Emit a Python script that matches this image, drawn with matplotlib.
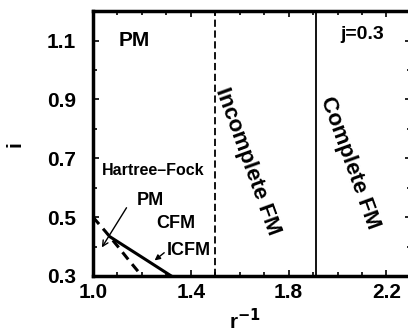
import matplotlib.pyplot as plt
from matplotlib.ticker import MultipleLocator

plt.rcParams['font.family'] = ['Liberation Sans', 'DejaVu Sans']
plt.rcParams['font.weight'] = 'bold'

# phase boundaries, j = 0.3
hf_x = [1.0, 1.05, 1.1, 1.15, 1.2]          # PM / CFM (dashed)
hf_y = [0.5, 0.452, 0.402, 0.35, 0.3]
icfm_x = [1.07, 1.2, 1.32]                  # CFM / ICFM (solid)
icfm_y = [0.433, 0.364, 0.3]
incomplete_fm = 1.5                         # dashed vertical
complete_fm = 1.91                          # solid vertical

xticks = [1.0, 1.4, 1.8, 2.2]
yticks = [0.3, 0.5, 0.7, 0.9, 1.1]

fig = plt.figure(figsize=(4.08, 3.36), dpi=100)
ax = fig.add_axes([0.228, 0.1786, 0.779, 0.788])

ax.plot(hf_x, hf_y, color='black', lw=2.2, ls=(0, (3, 2)))
ax.plot(icfm_x, icfm_y, color='black', lw=2.2)
ax.axvline(incomplete_fm, color='black', lw=1.3, ls=(0, (4, 2)))
ax.axvline(complete_fm, color='black', lw=1.3)

ax.set_xlim(1.0, 2.3)
ax.set_ylim(0.3, 1.2)
ax.set_xticks(xticks)
ax.set_yticks(yticks)
ax.xaxis.set_minor_locator(MultipleLocator(0.1))
ax.yaxis.set_minor_locator(MultipleLocator(0.1))
ax.tick_params(which='both', direction='in', top=True, right=True,
               width=1.2, labelsize=15)
ax.tick_params(which='major', length=4)
ax.tick_params(which='minor', length=3)
ax.tick_params(axis='x', pad=5)
ax.tick_params(axis='y', pad=12)
for s in ax.spines.values():
    s.set_linewidth(2.5)

ax.set_xlabel(r'r$^{-1}$', fontsize=15, fontweight='bold')
ax.xaxis.set_label_coords(0.478, -0.12)
ax.set_ylabel('i', fontsize=15, fontweight='bold', rotation=90)
ax.yaxis.set_label_coords(-0.215, 0.5)

ax.text(1.17, 1.1, 'PM', fontsize=15, ha='center', va='center')
ax.text(2.1, 1.12, 'j=0.3', fontsize=14, ha='center', va='center')
ax.text(1.63, 0.69, 'Incomplete FM', fontsize=16, rotation=-70,
        ha='center', va='center')
ax.text(2.05, 0.685, 'Complete FM', fontsize=16, rotation=-70,
        ha='center', va='center')
ax.text(1.035, 0.658, 'Hartree\u2013Fock', fontsize=11.5, ha='left', va='center')
ax.text(1.233, 0.555, 'PM', fontsize=13, ha='center', va='center')
ax.text(1.338, 0.477, 'CFM', fontsize=13, ha='center', va='center')
ax.text(1.39, 0.385, 'ICFM', fontsize=13, ha='center', va='center')

ax.annotate('', xy=(1.03, 0.389), xytext=(1.143, 0.54),
            arrowprops=dict(arrowstyle='->', color='black', lw=1.0))
ax.annotate('', xy=(1.243, 0.347), xytext=(1.3, 0.385),
            arrowprops=dict(arrowstyle='-|>', color='black', lw=1.0,
                            mutation_scale=8))

fig.savefig('out.png', dpi=100)
